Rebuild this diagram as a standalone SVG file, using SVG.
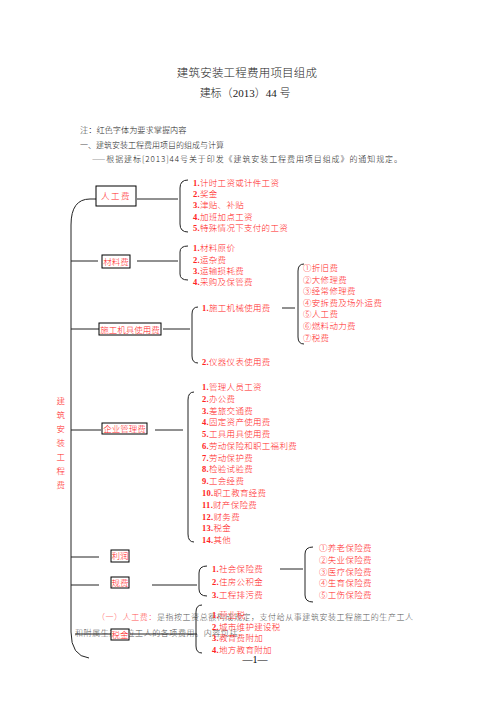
<svg xmlns="http://www.w3.org/2000/svg" width="496" height="702" viewBox="0 0 496 702">
<style>
.t{font-family:"Noto Sans CJK SC","Liberation Serif",serif;fill:#222;font-weight:300}
.r{font-family:"Noto Sans CJK SC","Liberation Serif",serif;fill:#f22;font-size:8.5px;letter-spacing:0.3px;font-weight:300}
.n{font-family:"Liberation Serif",serif;font-weight:bold}
.bx{fill:#fff;stroke:#000;stroke-width:1}
.bt{font-family:"Noto Sans CJK SC",serif;fill:#f22;font-size:8.5px;text-anchor:middle;font-weight:300}
.ln{fill:none;stroke:#222;stroke-width:1}
.g{font-family:"Noto Sans CJK SC",serif;fill:#555;font-size:8px;font-weight:300}
</style>
<rect width="496" height="702" fill="#fff"/>
<g id="header">
<text class="t" x="247" y="77" font-size="11.5" text-anchor="middle" letter-spacing="0.2">建筑安装工程费用项目组成</text>
<text class="t" x="245" y="97" font-size="11" text-anchor="middle"><tspan>建标（</tspan><tspan font-family="Liberation Serif">2013</tspan><tspan>）</tspan><tspan font-family="Liberation Serif">44 </tspan><tspan>号</tspan></text>
<text class="t" x="80" y="133" font-size="8.2">注：红色字体为要求掌握内容</text>
<text class="t" x="80" y="148" font-size="8">一、建筑安装工程费用项目的组成与计算</text>
<text class="t" x="92" y="162" font-size="8" textLength="310" lengthAdjust="spacing">——根据建标[2013]44号关于印发《建筑安装工程费用项目组成》的通知规定。</text>
</g>
<g id="connectors">
<path class="ln" d="M96,199 L90,199 Q71,199 71,225 L71,632 Q71,656 89,658" stroke="#555" stroke-width="1.3"/>
<line class="ln" x1="137" y1="199" x2="178" y2="199"/>
<path class="ln" d="M188,180 Q180,180 180,188 L180,224 Q180,232 188,232"/>
<line class="ln" x1="71" y1="261" x2="98" y2="261"/>
<line class="ln" x1="137" y1="261" x2="178" y2="261"/>
<path class="ln" d="M188,246 Q180,246 180,252 L180,274 Q180,280 188,280"/>
<line class="ln" x1="71" y1="329" x2="99" y2="329"/>
<line class="ln" x1="163" y1="329" x2="190" y2="329"/>
<path class="ln" d="M198,307 Q192,307 192,314 L192,356 Q192,363 198,363"/>
<line class="ln" x1="282" y1="308" x2="295" y2="308"/>
<path class="ln" d="M304,264 Q298,264 298,271 L298,337 Q298,344 304,344"/>
<line class="ln" x1="71" y1="430" x2="101" y2="430"/>
<line class="ln" x1="155" y1="430" x2="183" y2="430"/>
<path class="ln" d="M194,392 Q188,392 188,400 L188,534 Q188,542 194,542"/>
<line class="ln" x1="71" y1="557" x2="99" y2="557"/>
<line class="ln" x1="71" y1="585" x2="99" y2="585"/>
<line class="ln" x1="152" y1="585" x2="197" y2="585"/>
<path class="ln" d="M207,566 Q199,566 199,573 L199,589 Q199,596 207,596"/>
<line class="ln" x1="280" y1="569" x2="303" y2="569"/>
<path class="ln" d="M313,547 Q305,547 305,554 L305,595 Q305,602 313,602"/>
</g>
<g id="intro-text">
<text class="g" x="97" y="620" textLength="316" lengthAdjust="spacing"><tspan fill="#f55">（一）人工费：</tspan>是指按工资总额构成规定，支付给从事建筑安装工程施工的生产工人</text>
<text class="g" x="75" y="636" textLength="171" lengthAdjust="spacing">和附属生产单位工人的各项费用。内容包括：</text>
<line class="ln" x1="75" y1="634" x2="111" y2="634"/>
<line class="ln" x1="130" y1="634" x2="197" y2="634"/>
<path class="ln" d="M202,605 Q196,605 196,612 L196,646 Q196,653 202,653"/>
</g>
<g id="root">
<text class="r" font-size="9" text-anchor="middle"><tspan x="61" y="404">建</tspan><tspan x="61" y="418">筑</tspan><tspan x="61" y="432">安</tspan><tspan x="61" y="446">装</tspan><tspan x="61" y="460">工</tspan><tspan x="61" y="474">程</tspan><tspan x="61" y="488">费</tspan></text>
</g>
<g id="labor">
<rect class="bx" x="96" y="186" width="40" height="20"/>
<text class="bt" x="116" y="199" letter-spacing="1.5">人工费</text>
<text class="r" x="193"><tspan x="193" y="186"><tspan class="n">1.</tspan>计时工资或计件工资</tspan><tspan x="193" y="197"><tspan class="n">2.</tspan>奖金</tspan><tspan x="193" y="208"><tspan class="n">3.</tspan>津贴、补贴</tspan><tspan x="193" y="220"><tspan class="n">4.</tspan>加班加点工资</tspan><tspan x="193" y="231"><tspan class="n">5.</tspan>特殊情况下支付的工资</tspan></text>
</g>
<g id="material">
<rect class="bx" x="102" y="255" width="28" height="13"/>
<text class="bt" x="116" y="265">材料费</text>
<text class="r"><tspan x="193" y="251"><tspan class="n">1.</tspan>材料原价</tspan><tspan x="193" y="263"><tspan class="n">2.</tspan>运杂费</tspan><tspan x="193" y="274"><tspan class="n">3.</tspan>运输损耗费</tspan><tspan x="193" y="285"><tspan class="n">4.</tspan>采购及保管费</tspan></text>
</g>
<g id="machinery">
<rect class="bx" x="99" y="323" width="62" height="12"/>
<text class="bt" x="130" y="332.5">施工机具使用费</text>
<text class="r"><tspan x="202" y="311"><tspan class="n">1.</tspan>施工机械使用费</tspan><tspan x="202" y="365"><tspan class="n">2.</tspan>仪器仪表使用费</tspan></text>
<text class="r"><tspan x="303" y="271">①折旧费</tspan><tspan x="303" y="283">②大修理费</tspan><tspan x="303" y="294">③经常修理费</tspan><tspan x="303" y="306">④安拆费及场外运费</tspan><tspan x="303" y="317">⑤人工费</tspan><tspan x="303" y="329">⑥燃料动力费</tspan><tspan x="303" y="341">⑦税费</tspan></text>
</g>
<g id="management">
<rect class="bx" x="102" y="423" width="45" height="11"/>
<text class="bt" x="124.5" y="432">企业管理费</text>
<text class="r"><tspan x="202" y="390"><tspan class="n">1.</tspan>管理人员工资</tspan><tspan x="202" y="401.8"><tspan class="n">2.</tspan>办公费</tspan><tspan x="202" y="413.5"><tspan class="n">3.</tspan>差旅交通费</tspan><tspan x="202" y="425.3"><tspan class="n">4.</tspan>固定资产使用费</tspan><tspan x="202" y="437.1"><tspan class="n">5.</tspan>工具用具使用费</tspan><tspan x="202" y="448.9"><tspan class="n">6.</tspan>劳动保险和职工福利费</tspan><tspan x="202" y="460.6"><tspan class="n">7.</tspan>劳动保护费</tspan><tspan x="202" y="472.4"><tspan class="n">8.</tspan>检验试验费</tspan><tspan x="202" y="484.2"><tspan class="n">9.</tspan>工会经费</tspan><tspan x="202" y="495.9"><tspan class="n">10.</tspan>职工教育经费</tspan><tspan x="202" y="507.7"><tspan class="n">11.</tspan>财产保险费</tspan><tspan x="202" y="519.5"><tspan class="n">12.</tspan>财务费</tspan><tspan x="202" y="531.2"><tspan class="n">13.</tspan>税金</tspan><tspan x="202" y="543"><tspan class="n">14.</tspan>其他</tspan></text>
</g>
<g id="profit">
<rect class="bx" x="111" y="550" width="18" height="12"/>
<text class="bt" x="120" y="559">利润</text>
</g>
<g id="fees">
<rect class="bx" x="111" y="577" width="18" height="11"/>
<text class="bt" x="120" y="585.5">规费</text>
<text class="r"><tspan x="212" y="572"><tspan class="n">1.</tspan>社会保险费</tspan><tspan x="212" y="585"><tspan class="n">2.</tspan>住房公积金</tspan><tspan x="212" y="598"><tspan class="n">3.</tspan>工程排污费</tspan></text>
<text class="r"><tspan x="319" y="551">①养老保险费</tspan><tspan x="319" y="563">②失业保险费</tspan><tspan x="319" y="575">③医疗保险费</tspan><tspan x="319" y="586">④生育保险费</tspan><tspan x="319" y="598">⑤工伤保险费</tspan></text>
</g>
<g id="tax">
<rect class="bx" x="111" y="629" width="18" height="11"/>
<text class="bt" x="120" y="637.5">税金</text>
<text class="r"><tspan x="212" y="618"><tspan class="n">1.</tspan>营业税</tspan><tspan x="212" y="630"><tspan class="n">2.</tspan>城市维护建设税</tspan><tspan x="212" y="641"><tspan class="n">3.</tspan>教育费附加</tspan><tspan x="212" y="653"><tspan class="n">4.</tspan>地方教育附加</tspan></text>
</g>
<g id="footer">
<text x="255" y="663" font-family="Liberation Serif" font-size="10" text-anchor="middle" fill="#000">—1—</text>
</g>
</svg>
